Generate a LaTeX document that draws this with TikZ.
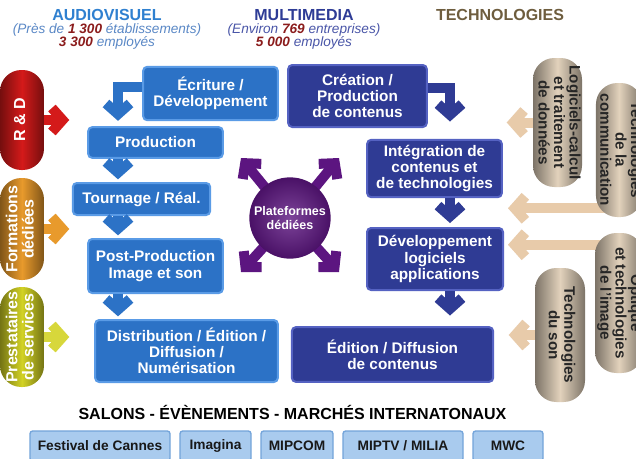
\documentclass[tikz,border=0pt]{standalone}
\usepackage{fontspec}
\setmainfont{Liberation Sans}
\usepackage{xcolor}
\usepackage{tikz}
\usetikzlibrary{arrows.meta,calc,backgrounds}

\definecolor{avblue}{HTML}{2C72C6}
\definecolor{avline}{HTML}{5A9BE6}
\definecolor{mmblue}{HTML}{2F3B94}
\definecolor{mmline}{HTML}{5562C2}
\definecolor{avhead}{HTML}{2F80D0}
\definecolor{avsubc}{HTML}{5A88C6}
\definecolor{mmhead}{HTML}{2E3C96}
\definecolor{mmsubc}{HTML}{4A56A8}
\definecolor{techhead}{HTML}{6E5D3E}
\definecolor{numred}{HTML}{8B1C1C}
\definecolor{platviolet}{HTML}{5C1580}
\definecolor{rdred}{HTML}{D41A1A}
\definecolor{formorange}{HTML}{E89A2C}
\definecolor{prestyellow}{HTML}{D2D225}
\definecolor{techtan}{HTML}{E2D2BC}
\definecolor{tanarrow}{HTML}{E8CBAA}
\definecolor{btnfill}{HTML}{A9CBEE}
\definecolor{btnline}{HTML}{73A4DA}

\newcommand{\nbr}[1]{\textcolor{numred}{\textbf{#1}}}
\newcommand{\vlines}[2]{\rotatebox{#1}{\begin{tabular}{@{}c@{}}#2\end{tabular}}}

\begin{document}
\begin{tikzpicture}[x=0.75pt,y=-0.75pt,
	sectitle/.style={font=\fontsize{12}{14}\selectfont\bfseries},
	secsub/.style={font=\fontsize{10.2}{11}\selectfont\itshape},
	avbox/.style={draw=avline,fill=avblue,line width=1.5pt,rounded corners=3pt,text=white,align=center,inner sep=0pt,font=\fontsize{11.5}{12.2}\selectfont\bfseries},
	mmbox/.style={avbox,draw=mmline,fill=mmblue},
	flow/.style={line width=7.5pt,-{Straight Barb[length=8pt,width=18pt]}},
	pill/.style={rounded corners=16pt,inner sep=0pt,shading=axis,left color=#1!55!black,right color=#1!55!black,middle color=#1},
	lpill/.style={text=white,font=\fontsize{12}{11.5}\selectfont\bfseries},
	rpill/.style={text=black!85,font=\fontsize{11.4}{10.9}\selectfont\bfseries},
	btn/.style={draw=btnline,fill=btnfill,line width=1pt,rounded corners=2pt,minimum height=22.5pt,inner sep=0pt,text=black!90,font=\fontsize{10.3}{12}\selectfont\bfseries}]

	\useasboundingbox (0,0) rectangle (636,458);
	\clip (0,0) rectangle (636,458);

	\node[sectitle,text=avhead] (av) at (107,15) {AUDIOVISUEL};
	\node[secsub,text=avsubc] (avs) at (107,30) {(Près de \nbr{1 300} établissements)};
	\node[secsub,text=avsubc] (ave) at (107,43) {\nbr{3 300} employés};
	\node[sectitle,text=mmhead] (mm) at (304,15) {MULTIMEDIA};
	\node[secsub,text=mmsubc] (mms) at (304,30) {(Environ \nbr{769} entreprises)};
	\node[secsub,text=mmsubc] (mme) at (304,43) {\nbr{5 000} employés};
	\node[sectitle,text=techhead] (tech) at (500,15) {TECHNOLOGIES};

	\node[avbox,minimum width=101pt,minimum height=40pt] (ecr) at (210.5,93.5) {Écriture /\\Développement};
	\node[avbox,minimum width=101pt,minimum height=23pt] (prod) at (155.5,142.5) {Production};
	\node[avbox,minimum width=103pt,minimum height=24pt] (tour) at (141.5,199) {Tournage / Réal.};
	\node[avbox,minimum width=101pt,minimum height=40.5pt] (post) at (155.5,266) {Post-Production\\Image et son};
	\node[avbox,minimum width=137pt,minimum height=46.5pt] (distr) at (186.5,351) {Distribution / Édition /\\Diffusion /\\Numérisation};

	\node[mmbox,minimum width=104pt,minimum height=46.5pt] (crea) at (357.5,96) {Création /\\Production\\de contenus};
	\node[mmbox,minimum width=101pt,minimum height=43pt] (integ) at (434.5,168.5) {Intégration de\\contenus et\\de technologies};
	\node[mmbox,minimum width=102pt,minimum height=46.5pt] (devl) at (435,259) {Développement\\logiciels\\applications};
	\node[mmbox,minimum width=151pt,minimum height=41pt] (edit) at (392.5,354.5) {Édition / Diffusion\\de contenus};

	\coordinate (lx) at (118,0);
	\coordinate (rx) at (450,0);
	\draw[flow,draw=avblue,shorten >=4pt] ($(ecr.west)+(0,-6.5)$) -| (lx |- prod.north);
	\draw[flow,draw=avblue,shorten >=2pt] (lx |- prod.south) -- (lx |- tour.north);
	\draw[flow,draw=avblue,shorten >=2pt] (lx |- tour.south) -- (lx |- post.north);
	\draw[flow,draw=avblue,shorten >=2pt] (lx |- post.south) -- (lx |- distr.north);
	\draw[flow,draw=mmblue,shorten >=13pt] ($(crea.east)+(0,-8)$) -| (rx |- integ.north);
	\draw[flow,draw=mmblue,shorten >=3pt] (rx |- integ.south) -- (rx |- devl.north);
	\draw[flow,draw=mmblue,shorten >=8pt] (rx |- devl.south) -- (rx |- edit.north);

	\node[circle,minimum size=61pt,inner sep=0pt,inner color=platviolet!80!white,outer color=platviolet!80!black,text=white,align=center,font=\fontsize{9.4}{11}\selectfont\bfseries] (plat) at (290,218) {Plateformes\\dédiées};

	\node[pill=rdred,lpill,minimum width=33pt,minimum height=75pt] (rd) at (22,120) {\vlines{90}{R \& D}};
	\node[pill=formorange,lpill,minimum width=33pt,minimum height=76.5pt] (form) at (22,229) {\vlines{90}{Formations\\dédiées}};
	\node[pill=prestyellow,lpill,minimum width=33pt,minimum height=75pt] (prest) at (22,337) {\vlines{90}{Prestataires\\de services}};
	\draw[flow,draw=rdred] (rd.east) -- ++(25,0);
	\draw[flow,draw=formorange] (form.east) -- ++(25,0);
	\draw[flow,draw=prestyellow!90!white] (prest.east) -- ++(25,0);

	\node[pill=techtan,rpill,minimum width=36.75pt,minimum height=96.75pt] (logi) at (557.5,122.5) {\vlines{-90}{Logiciels-calcul\\et traitement\\de données}};
	\node[pill=techtan,rpill,minimum width=34.5pt,minimum height=100.5pt] (comm) at (619,150) {\vlines{-90}{Technologies\\de la\\communication}};
	\node[pill=techtan,rpill,minimum width=36pt,minimum height=105pt] (opti) at (619,303) {\vlines{-90}{Optique\\et technologies\\de l'image}};
	\node[pill=techtan,rpill,minimum width=37.5pt,minimum height=100.5pt] (son) at (560,335) {\vlines{-90}{Technologies\\du son}};
	\draw[flow,draw=tanarrow] (logi.west) -- ++(-26,0);
	\draw[flow,draw=tanarrow] (son.west) -- ++(-26,0);

	\begin{scope}[on background layer]
		\fill[white] (0,0) rectangle (636,458);
		\draw[flow,draw=platviolet] (plat.center) -- ++(-49,-60);
		\draw[flow,draw=platviolet] (plat.center) -- ++(49,-60);
		\draw[flow,draw=platviolet] (plat.center) -- ++(-49,54);
		\draw[flow,draw=platviolet] (plat.center) -- ++(49,54);
		\draw[flow,draw=tanarrow] ($(comm.south)+(0,-9)$) -- ++(-111,0);
		\draw[flow,draw=tanarrow] ($(opti.north)+(0,12)$) -- ++(-111,0);
	\end{scope}

	\node[font=\fontsize{12}{14}\selectfont\bfseries] (salons) at (292.5,412) {SALONS - ÉVÈNEMENTS - MARCHÉS INTERNATONAUX};
	\node[btn,minimum width=105pt] (cannes) at (100,446) {Festival de Cannes};
	\node[btn,minimum width=53.25pt] (imagina) at (215.5,446) {Imagina};
	\node[btn,minimum width=54pt] (mipcom) at (297,446) {MIPCOM};
	\node[btn,minimum width=90pt] (miptv) at (403,446) {MIPTV / MILIA};
	\node[btn,minimum width=52.5pt] (mwc) at (508,446) {MWC};
\end{tikzpicture}
\end{document}
